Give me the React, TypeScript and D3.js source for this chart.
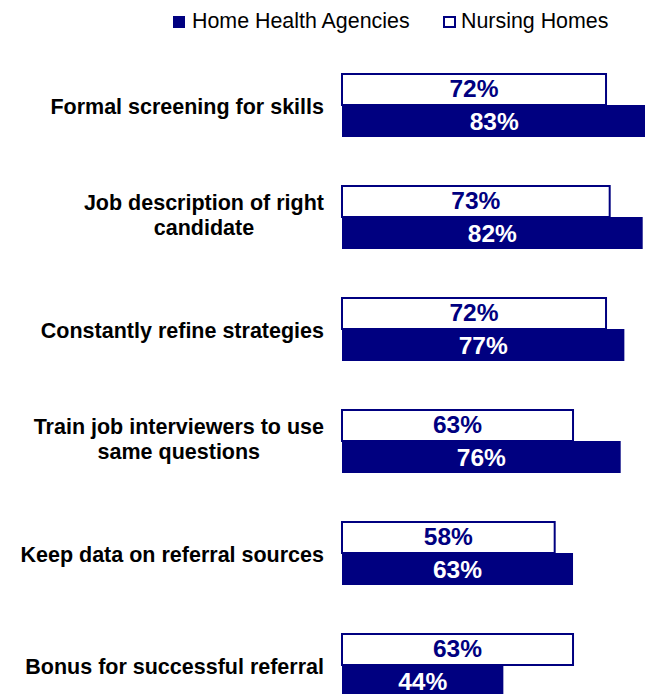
import React from "react";
import * as d3 from "d3";

const categories = [
  ["Formal screening for skills"],
  ["Job description of right", "candidate"],
  ["Constantly refine strategies"],
  ["Train job interviewers to use", "same questions"],
  ["Keep data on referral sources"],
  ["Bonus for successful referral"],
];
const nursingHomes = [72, 73, 72, 63, 58, 63];
const homeHealth = [83, 82, 77, 76, 63, 44];

const NAVY = "#000080";
const FONT = "Liberation Sans, Arial, sans-serif";
const LABEL_SIZE = 21.5;

// width of the widest line, so multi-line labels can be centred as a block
const ctx = document.createElement("canvas").getContext("2d")!;
ctx.font = `bold ${LABEL_SIZE}px "Liberation Sans", Arial, sans-serif`;
const textWidth = (s: string) => ctx.measureText(s).width;

export default function App() {
  const width = 645;
  const height = 694;
  const labelRight = 324;
  const x = d3.scaleLinear().domain([0, 100]).range([342, 342 + 366.7]);
  const y = d3
    .scaleBand<number>()
    .domain(d3.range(categories.length))
    .range([49, 49 + 112 * categories.length])
    .paddingInner(48 / 112)
    .paddingOuter(24 / 112);
  const bh = y.bandwidth() / 2;

  return (
    <svg
      width={width}
      height={height}
      style={{ position: "absolute", left: 0, top: 0 }}
      fontFamily={FONT}
    >
      <rect x={173} y={16} width={12} height={12} fill={NAVY} />
      <text x={192} y={28} fontSize={21.4}>
        Home Health Agencies
      </text>
      <rect x={444} y={17} width={11} height={10} fill="white" stroke={NAVY} strokeWidth={2} />
      <text x={461} y={28} fontSize={21.4}>
        Nursing Homes
      </text>

      {categories.map((lines, i) => {
        const top = y(i)!;
        const mid = top + bh;
        const lh = 25;
        const off = lines.length > 1 ? 5.5 : 9;
        const maxW = d3.max(lines, textWidth)!;
        const cx = labelRight - maxW / 2;
        return (
          <g key={i}>
            <text textAnchor="middle" fontSize={LABEL_SIZE} fontWeight="bold">
              {lines.map((l, j) => (
                <tspan
                  key={j}
                  x={cx}
                  y={mid + off + (j - (lines.length - 1) / 2) * lh}
                >
                  {l}
                </tspan>
              ))}
            </text>
            <rect
              x={x(0)}
              y={top + 1}
              width={x(nursingHomes[i]) - x(0)}
              height={bh - 1}
              fill="white"
              stroke={NAVY}
              strokeWidth={2}
            />
            <text
              x={(x(0) + x(nursingHomes[i])) / 2}
              y={top + 24}
              textAnchor="middle"
              fontSize={24.5}
              fontWeight="bold"
              fill={NAVY}
            >
              {nursingHomes[i]}%
            </text>
            <rect
              x={x(0)}
              y={top + bh}
              width={x(homeHealth[i]) - x(0)}
              height={bh}
              fill={NAVY}
            />
            <text
              x={(x(0) + x(homeHealth[i])) / 2}
              y={top + bh + 25}
              textAnchor="middle"
              fontSize={24.5}
              fontWeight="bold"
              fill="white"
            >
              {homeHealth[i]}%
            </text>
          </g>
        );
      })}
    </svg>
  );
}
